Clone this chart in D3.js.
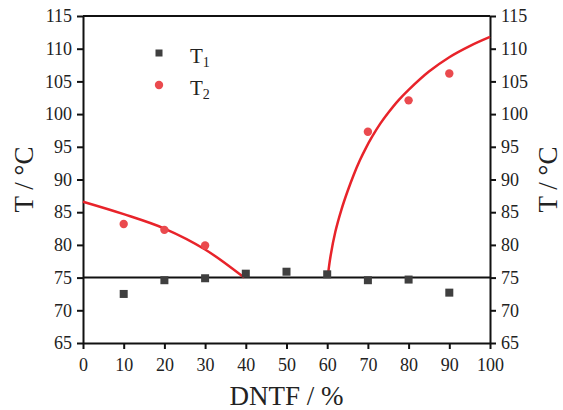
<!DOCTYPE html>
<html>
<head>
<meta charset="utf-8">
<script src="https://cdn.jsdelivr.net/npm/d3@7"></script>
<style>
  body { margin: 0; background: #fff; }
  svg { display: block; }
  text { font-family: "Liberation Serif", "DejaVu Serif", serif; fill: #222; }
</style>
</head>
<body>
<div id="chart"></div>
<script>
// DNTF content (%) of the measured samples
const dntf = [10, 20, 30, 40, 50, 60, 70, 80, 90];
// measured temperatures (°C)
const t1 = [72.5, 74.6, 74.9, 75.6, 75.9, 75.5, 74.6, 74.7, 72.7];
const t2x = [10, 20, 30, 70, 80, 90];
const t2 = [83.2, 82.3, 79.9, 97.3, 102.1, 106.2];

// fitted liquidus branches
const leftFit = [[0, 86.6], [10, 84.7], [20, 82.5], [30, 79.3], [39.6, 75]];
const rightFit = [[60.1, 75], [60.8, 78.2], [62, 82], [63.5, 85.4], [65, 88.2],
  [66.5, 90.7], [68, 92.9], [69.5, 94.8], [71, 96.5], [73, 98.5], [75, 100.2],
  [77.5, 102.1], [80, 103.7], [85, 106.5], [90, 108.7], [95, 110.4], [100, 111.8]];
const eutectic = 75;

const xTicks = d3.range(0, 101, 10);
const yTicks = d3.range(65, 116, 5);

const W = 563, H = 410;
const margin = {top: 16, right: 73, bottom: 67, left: 83};
const width = W - margin.left - margin.right;
const height = H - margin.top - margin.bottom;

const svg = d3.select('#chart').append('svg')
  .attr('width', W)
  .attr('height', H);

const g = svg.append('g')
  .attr('transform', `translate(${margin.left},${margin.top})`);

const x = d3.scaleLinear().domain([0, 100]).range([0, width]);
const y = d3.scaleLinear().domain([65, 115]).range([height, 0]);

// axes
const xAxis = g.append('g')
  .attr('transform', `translate(0,${height})`)
  .call(d3.axisBottom(x).tickValues(xTicks).tickSize(6).tickPadding(5).tickSizeOuter(0));
const yLeft = g.append('g')
  .call(d3.axisLeft(y).tickValues(yTicks).tickSize(6).tickPadding(5).tickSizeOuter(0));
const yRight = g.append('g')
  .attr('transform', `translate(${width},0)`)
  .call(d3.axisRight(y).tickValues(yTicks).tickSize(6).tickPadding(5).tickSizeOuter(0));

// top frame line
g.append('line')
  .attr('x1', 0).attr('x2', width)
  .attr('y1', 0).attr('y2', 0)
  .attr('stroke', '#111').attr('stroke-width', 2);

[xAxis, yLeft, yRight].forEach(a => {
  a.selectAll('path, line').attr('stroke', '#111').attr('stroke-width', 2);
  a.selectAll('text').style('font-size', '18px').attr('fill', '#222');
});
xAxis.selectAll('text').attr('dy', '0.95em');

// eutectic line
g.append('line')
  .attr('x1', x(0)).attr('x2', x(100))
  .attr('y1', y(eutectic)).attr('y2', y(eutectic))
  .attr('stroke', '#111').attr('stroke-width', 2);

// fitted curves
const line = d3.line()
  .x(d => x(d[0]))
  .y(d => y(d[1]))
  .curve(d3.curveCatmullRom.alpha(0.5));

[leftFit, rightFit].forEach(pts => {
  g.append('path')
    .datum(pts)
    .attr('fill', 'none')
    .attr('stroke', '#e8232a')
    .attr('stroke-width', 2.5)
    .attr('d', line);
});

// T1 squares
const sq = 8;
g.selectAll('.t1')
  .data(dntf.map((d, i) => [d, t1[i]]))
  .enter().append('rect')
  .attr('class', 't1')
  .attr('x', d => x(d[0]) - sq / 2)
  .attr('y', d => y(d[1]) - sq / 2)
  .attr('width', sq)
  .attr('height', sq)
  .attr('fill', '#3f3f3f');

// T2 circles
g.selectAll('.t2')
  .data(t2x.map((d, i) => [d, t2[i]]))
  .enter().append('circle')
  .attr('class', 't2')
  .attr('cx', d => x(d[0]))
  .attr('cy', d => y(d[1]))
  .attr('r', 4.2)
  .attr('fill', '#ea4a4e');

// legend
const legend = svg.append('g').attr('transform', 'translate(159,53)');
legend.append('rect')
  .attr('x', -3.5).attr('y', -3.5)
  .attr('width', 7).attr('height', 7)
  .attr('fill', '#3f3f3f');
legend.append('circle')
  .attr('cx', 0).attr('cy', 32)
  .attr('r', 4.2)
  .attr('fill', '#ea4a4e');
const lt1 = legend.append('text').attr('x', 31).attr('y', 10).style('font-size', '21px');
lt1.append('tspan').text('T');
lt1.append('tspan').attr('dy', 4).style('font-size', '14px').text('1');
const lt2 = legend.append('text').attr('x', 31).attr('y', 42).style('font-size', '21px');
lt2.append('tspan').text('T');
lt2.append('tspan').attr('dy', 4).style('font-size', '14px').text('2');

// axis titles
svg.append('text')
  .attr('transform', `translate(33,${margin.top + height / 2}) rotate(-90)`)
  .attr('text-anchor', 'middle')
  .style('font-size', '27px')
  .text('T / °C');
svg.append('text')
  .attr('transform', `translate(557,${margin.top + height / 2}) rotate(-90)`)
  .attr('text-anchor', 'middle')
  .style('font-size', '27px')
  .text('T / °C');
svg.append('text')
  .attr('x', margin.left + width / 2)
  .attr('y', 405)
  .attr('text-anchor', 'middle')
  .style('font-size', '27px')
  .text('DNTF / %');
</script>
</body>
</html>
